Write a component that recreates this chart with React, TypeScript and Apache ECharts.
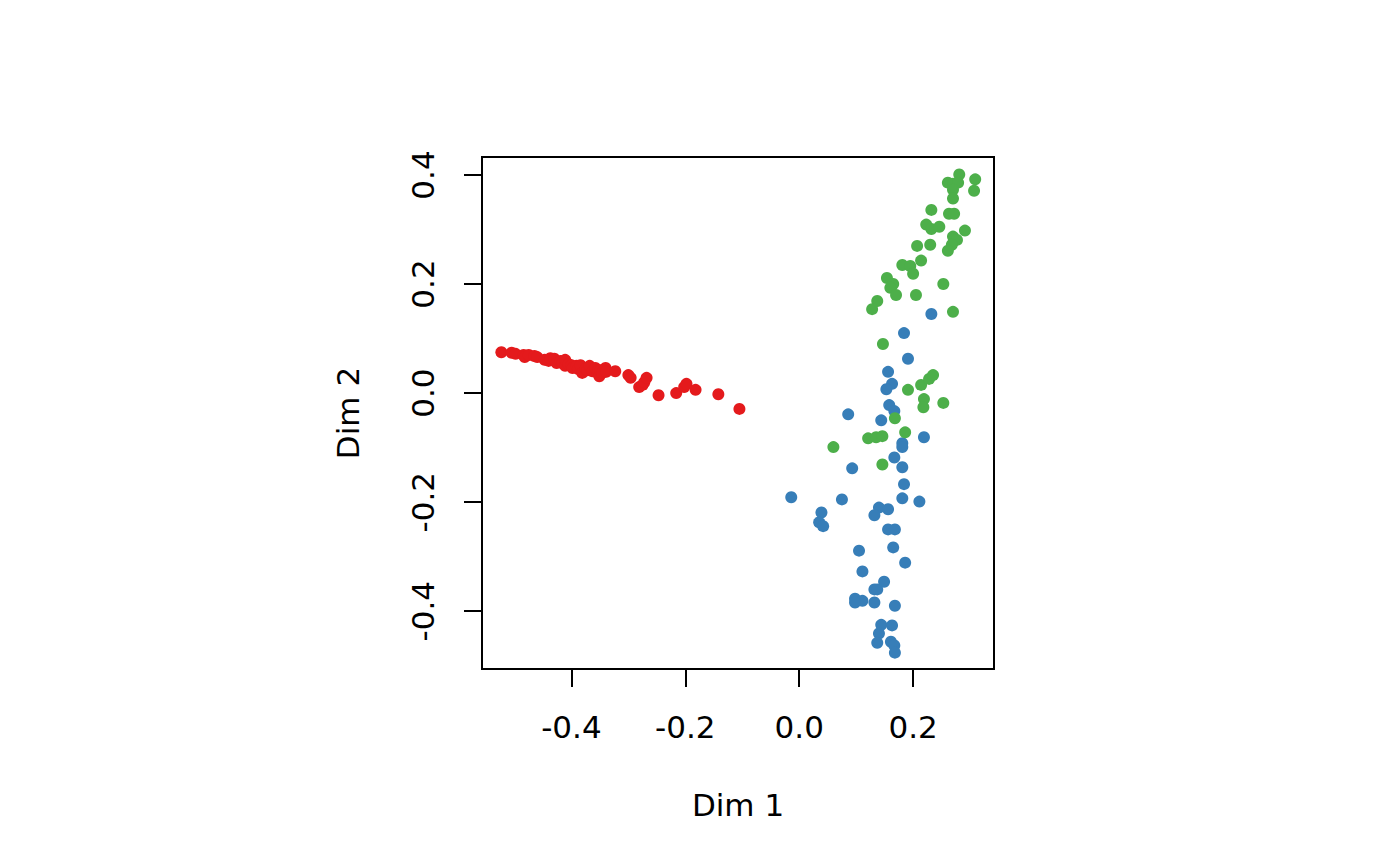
import React, { useEffect, useRef } from "react";
import * as echarts from "echarts";

// Group 1 (red)
const groupRed: number[][] = [
  [-0.523, 0.075], [-0.505, 0.074], [-0.498, 0.072], [-0.484, 0.070], [-0.482, 0.066],
  [-0.475, 0.070], [-0.465, 0.068], [-0.460, 0.066], [-0.447, 0.061], [-0.440, 0.059],
  [-0.437, 0.064], [-0.430, 0.063], [-0.426, 0.055], [-0.419, 0.059], [-0.416, 0.055],
  [-0.411, 0.050], [-0.411, 0.061], [-0.405, 0.053], [-0.400, 0.051], [-0.398, 0.046],
  [-0.391, 0.050], [-0.388, 0.044], [-0.384, 0.051], [-0.381, 0.037], [-0.375, 0.044],
  [-0.372, 0.042], [-0.368, 0.050], [-0.363, 0.040], [-0.358, 0.046], [-0.354, 0.037],
  [-0.353, 0.042], [-0.351, 0.031], [-0.349, 0.042], [-0.346, 0.037], [-0.340, 0.046],
  [-0.339, 0.039], [-0.323, 0.040], [-0.300, 0.033], [-0.296, 0.028], [-0.281, 0.011],
  [-0.275, 0.015], [-0.272, 0.020], [-0.268, 0.028], [-0.247, -0.004], [-0.216, 0.000],
  [-0.202, 0.011], [-0.198, 0.017], [-0.182, 0.006], [-0.142, -0.002], [-0.105, -0.029],
];

// Group 2 (blue)
const groupBlue: number[][] = [
  [0.232, 0.145], [0.184, 0.110], [0.191, 0.063], [0.156, 0.039], [0.163, 0.017],
  [0.153, 0.007], [0.158, -0.022], [0.167, -0.033], [0.144, -0.050], [0.086, -0.039],
  [0.219, -0.081], [0.181, -0.092], [0.181, -0.099], [0.167, -0.118], [0.181, -0.136],
  [0.093, -0.138], [0.184, -0.167], [-0.014, -0.191], [0.075, -0.195], [0.181, -0.193],
  [0.211, -0.199], [0.039, -0.219], [0.140, -0.210], [0.156, -0.213], [0.132, -0.224],
  [0.035, -0.237], [0.042, -0.244], [0.156, -0.250], [0.168, -0.250], [0.105, -0.289],
  [0.165, -0.283], [0.186, -0.311], [0.111, -0.327], [0.149, -0.346], [0.132, -0.360],
  [0.137, -0.360], [0.098, -0.377], [0.111, -0.381], [0.098, -0.384], [0.132, -0.384],
  [0.168, -0.390], [0.144, -0.425], [0.163, -0.426], [0.140, -0.441], [0.137, -0.458],
  [0.161, -0.456], [0.167, -0.463], [0.168, -0.476],
];

// Group 3 (green)
const groupGreen: number[][] = [
  [0.281, 0.401], [0.261, 0.386], [0.270, 0.384], [0.279, 0.386], [0.309, 0.392],
  [0.307, 0.371], [0.270, 0.373], [0.270, 0.357], [0.232, 0.336], [0.263, 0.329],
  [0.272, 0.329], [0.223, 0.309], [0.232, 0.301], [0.246, 0.305], [0.291, 0.298],
  [0.270, 0.287], [0.277, 0.281], [0.268, 0.272], [0.261, 0.261], [0.207, 0.270],
  [0.230, 0.272], [0.214, 0.243], [0.181, 0.235], [0.195, 0.233], [0.200, 0.219],
  [0.154, 0.211], [0.165, 0.200], [0.160, 0.193], [0.170, 0.180], [0.205, 0.180],
  [0.253, 0.200], [0.137, 0.169], [0.128, 0.154], [0.270, 0.149], [0.147, 0.090],
  [0.191, 0.006], [0.214, 0.015], [0.228, 0.026], [0.235, 0.033], [0.219, -0.011],
  [0.218, -0.026], [0.253, -0.018], [0.168, -0.046], [0.186, -0.072], [0.121, -0.083],
  [0.135, -0.081], [0.146, -0.079], [0.060, -0.099], [0.146, -0.131],
];

const xTicks = [-0.4, -0.2, 0.0, 0.2];
const yTicks = [-0.4, -0.2, 0.0, 0.2, 0.4];
const xName = "Dim 1";
const yName = "Dim 2";

const FONT = "DejaVu Sans";

export default function App() {
  const ref = useRef<HTMLDivElement>(null);
  useEffect(() => {
    if (!ref.current) return;
    const chart = echarts.init(ref.current, null, { renderer: "svg" });
    const fmt = (v: number) => v.toFixed(1);
    const series = [
      { data: groupRed, color: "#E41A1C" },
      { data: groupBlue, color: "#377EB8" },
      { data: groupGreen, color: "#4DAF4A" },
    ].map((s) => ({
      type: "scatter",
      data: s.data,
      symbol: "circle",
      symbolSize: 12,
      itemStyle: { color: s.color, opacity: 1 },
      emphasis: { disabled: true },
    }));
    chart.setOption({
      animation: false,
      backgroundColor: "#ffffff",
      textStyle: { fontFamily: FONT },
      grid: {
        left: 482,
        top: 157,
        width: 512,
        height: 512,
        show: true,
        borderColor: "#000",
        borderWidth: 2,
        backgroundColor: "transparent",
      },
      xAxis: {
        type: "value",
        min: -0.557,
        max: 0.342,
        name: xName,
        nameLocation: "middle",
        nameGap: 120,
        nameTextStyle: { fontSize: 31, color: "#000", fontFamily: FONT },
        axisLine: { show: false, onZero: false },
        splitLine: { show: false },
        axisTick: {
          show: true,
          length: 18,
          lineStyle: { color: "#000", width: 2 },
          customValues: xTicks,
        },
        axisLabel: {
          fontSize: 31,
          color: "#000",
          fontFamily: FONT,
          margin: 42,
          customValues: xTicks,
          formatter: fmt,
        },
      },
      yAxis: {
        type: "value",
        min: -0.506,
        max: 0.433,
        name: yName,
        nameLocation: "middle",
        nameGap: 119,
        nameRotate: 90,
        nameTextStyle: { fontSize: 31, color: "#000", fontFamily: FONT },
        axisLine: { show: false, onZero: false },
        splitLine: { show: false },
        axisTick: {
          show: true,
          length: 18,
          lineStyle: { color: "#000", width: 2 },
          customValues: yTicks,
        },
        axisLabel: {
          fontSize: 31,
          color: "#000",
          fontFamily: FONT,
          margin: 44,
          rotate: 90,
          customValues: yTicks,
          formatter: fmt,
        },
      },
      series,
    });
    return () => chart.dispose();
  }, []);
  return (
    <div
      ref={ref}
      style={{ position: "absolute", left: 0, top: 0, width: 1400, height: 866 }}
    />
  );
}
